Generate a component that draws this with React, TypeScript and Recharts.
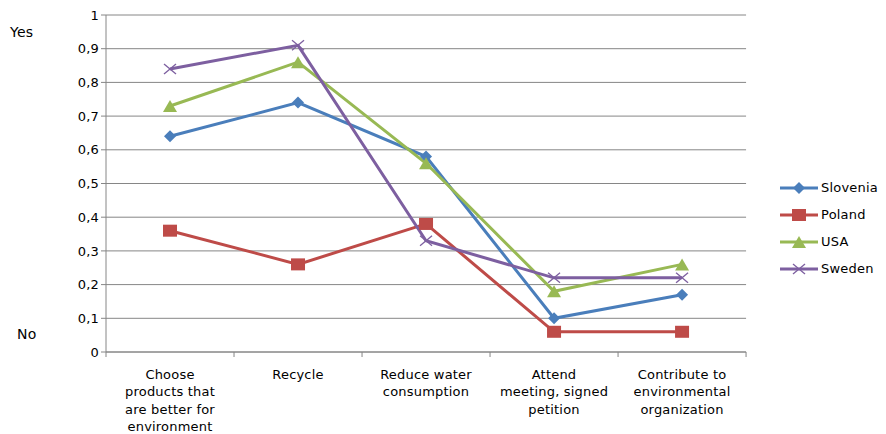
import React from "react";
import { LineChart, Line, XAxis, YAxis, CartesianGrid, Legend } from "recharts";

// categories and series values
const categories = [
  "Choose products that are better for environment",
  "Recycle",
  "Reduce water consumption",
  "Attend meeting, signed petition",
  "Contribute to environmental organization",
];
const categoryLines = [
  ["Choose", "products that", "are better for", "environment"],
  ["Recycle"],
  ["Reduce water", "consumption"],
  ["Attend", "meeting, signed", "petition"],
  ["Contribute to", "environmental", "organization"],
];
const slovenia = [0.64, 0.74, 0.58, 0.1, 0.17];
const poland = [0.36, 0.26, 0.38, 0.06, 0.06];
const usa = [0.73, 0.86, 0.56, 0.18, 0.26];
const sweden = [0.84, 0.91, 0.33, 0.22, 0.22];
const yTicks = [0, 0.1, 0.2, 0.3, 0.4, 0.5, 0.6, 0.7, 0.8, 0.9, 1];

const data = categories.map((name, i) => ({
  name,
  Slovenia: slovenia[i],
  Poland: poland[i],
  USA: usa[i],
  Sweden: sweden[i],
}));

const FONT = "'DejaVu Sans', 'Liberation Sans', sans-serif";
const LS = 0.2;

const series = [
  { key: "Slovenia", color: "#4A7EBB", shape: "diamond" },
  { key: "Poland", color: "#BE4B48", shape: "square" },
  { key: "USA", color: "#98B954", shape: "triangle" },
  { key: "Sweden", color: "#7D5FA0", shape: "cross" },
];

function Marker({ cx, cy, shape, color }: any) {
  if (cx == null || cy == null) return null;
  if (shape === "diamond")
    return <polygon points={`${cx},${cy - 6} ${cx + 6},${cy} ${cx},${cy + 6} ${cx - 6},${cy}`} fill={color} />;
  if (shape === "square")
    return <rect x={cx - 7} y={cy - 6} width={14} height={12} fill={color} />;
  if (shape === "triangle")
    return <polygon points={`${cx},${cy - 6} ${cx + 7},${cy + 6} ${cx - 7},${cy + 6}`} fill={color} />;
  return (
    <g stroke={color} strokeWidth={1.3}>
      <line x1={cx - 6} y1={cy - 5} x2={cx + 6} y2={cy + 5} />
      <line x1={cx - 6} y1={cy + 5} x2={cx + 6} y2={cy - 5} />
    </g>
  );
}

function XTick({ x, y, index }: any) {
  const lines = categoryLines[index] || [];
  const half = 64;
  return (
    <g>
      <line x1={x - half} y1={y - 8} x2={x - half} y2={y - 3} stroke="#868686" />
      {index === categories.length - 1 && (
        <line x1={x + half} y1={y - 8} x2={x + half} y2={y - 3} stroke="#868686" />
      )}
      <text
        x={x}
        y={y + 19}
        textAnchor="middle"
        fontFamily={FONT}
        fontSize={13}
        letterSpacing={LS}
        fill="#000"
      >
        {lines.map((l: string, i: number) => (
          <tspan key={i} x={x} dy={i === 0 ? 0 : 17.3}>
            {l}
          </tspan>
        ))}
      </text>
    </g>
  );
}

function LegendContent() {
  return (
    <div style={{ fontFamily: FONT, fontSize: 13, letterSpacing: LS }}>
      {series.map((s) => (
        <div key={s.key} style={{ display: "flex", alignItems: "center", height: 27 }}>
          <svg width={42} height={14}>
            <line x1={2} y1={7} x2={40} y2={7} stroke={s.color} strokeWidth={3} />
            <Marker cx={21} cy={7} shape={s.shape} color={s.color} />
          </svg>
          <span style={{ marginLeft: 1 }}>{s.key}</span>
        </div>
      ))}
    </div>
  );
}

export default function App() {
  return (
    <div style={{ position: "absolute", left: 0, top: 0, background: "#fff" }}>
      <LineChart
        width={886}
        height={434}
        data={data}
        margin={{ top: 15, right: 40, left: 0, bottom: 0 }}
      >
        <CartesianGrid vertical={false} stroke="#868686" strokeWidth={1} />
        <XAxis
          dataKey="name"
          scale="band"
          height={82}
          stroke="#868686"
          tickLine={false}
          tick={<XTick />}
          interval={0}
        />
        <YAxis
          width={106}
          domain={[0, 1]}
          ticks={yTicks}
          stroke="#868686"
          tickSize={5}
          tickFormatter={(v: number) => String(v).replace(".", ",")}
          tick={{ fontFamily: FONT, fontSize: 13, fill: "#000", letterSpacing: LS }}
        />
        <Legend
          layout="vertical"
          align="right"
          verticalAlign="top"
          content={<LegendContent />}
          wrapperStyle={{ right: 8, top: 174, left: "auto", width: "auto" }}
        />
        {series.map((s) => (
          <Line
            key={s.key}
            dataKey={s.key}
            stroke={s.color}
            strokeWidth={3}
            isAnimationActive={false}
            dot={(p: any) => <Marker key={p.index} cx={p.cx} cy={p.cy} shape={s.shape} color={s.color} />}
            activeDot={false}
          />
        ))}
        <text x={10} y={37} fontFamily={FONT} fontSize={14} letterSpacing={LS} fill="#000">Yes</text>
        <text x={17} y={339} fontFamily={FONT} fontSize={14} letterSpacing={LS} fill="#000">No</text>
      </LineChart>
    </div>
  );
}
